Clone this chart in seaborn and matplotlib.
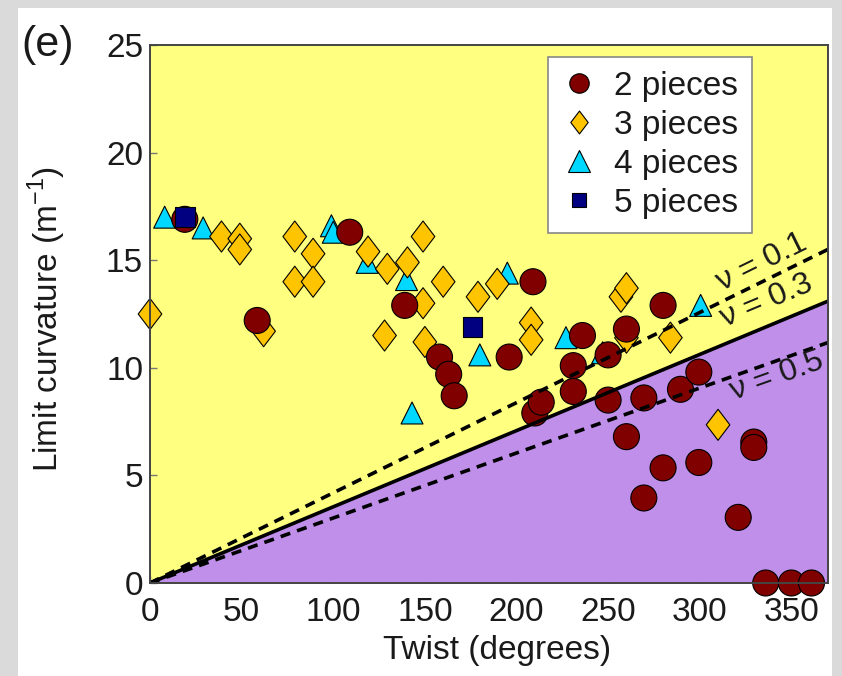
import numpy as np
import pandas as pd
import matplotlib
matplotlib.use("Agg")
import matplotlib.pyplot as plt
from matplotlib.path import Path
from matplotlib.lines import Line2D
from matplotlib.patches import Rectangle
import seaborn as sns

# ---- measured limit curvature vs. twist, grouped by number of pieces ----
twist_2 = [19, 58.5, 109, 139, 158, 163, 166, 196, 209, 210, 213.5, 231, 231,
           236, 250, 250, 260, 260, 269.5, 269.5, 280, 280, 289.5, 299.5, 299.5,
           321, 329.5, 329.5, 336, 350, 361]
curv_2 = [16.9, 12.2, 16.3, 12.9, 10.5, 9.7, 8.7, 10.5, 14.0, 7.9, 8.4, 10.1, 8.9,
          11.5, 10.6, 8.5, 11.8, 6.8, 8.6, 3.95, 12.9, 5.35, 9.0, 9.8, 5.6,
          3.05, 6.55, 6.3, 0.0, 0.0, 0.0]

twist_3 = [0, 39, 49, 49, 62, 79, 79, 89, 89, 119, 128, 129.5, 140.5, 149, 149,
           150, 160, 179, 189.5, 208, 208, 257, 260, 260, 284, 310]
curv_3 = [12.5, 16.1, 16.0, 15.5, 11.7, 16.1, 14.0, 15.3, 14.0, 15.4, 11.5, 14.6,
          14.9, 16.1, 13.0, 11.2, 14.0, 13.3, 13.9, 12.1, 11.3, 13.3, 13.7, 11.4,
          11.4, 7.35]

twist_4 = [8, 29, 99, 100, 118.5, 140, 143, 180, 195, 227, 247, 300.5]
curv_4 = [17.0, 16.5, 16.6, 16.3, 14.9, 14.1, 7.9, 10.6, 14.4, 11.4, 10.7, 12.9]

twist_5 = [19, 176]
curv_5 = [17.0, 11.9]

# ---- stability boundaries: limit curvature per degree of twist ----
nu_values = [0.1, 0.3, 0.5]
nu_slopes = [0.0419, 0.0354, 0.0302]
nu_styles = ["--", "-", "--"]
nu_label_x = [334, 336.5, 342]
nu_label_y = [14.9, 13.1, 9.6]

x_ticks = [0, 50, 100, 150, 200, 250, 300, 350]
y_ticks = [0, 5, 10, 15, 20, 25]

groups = ["2 pieces", "3 pieces", "4 pieces", "5 pieces"]
colors = {"2 pieces": "#800000", "3 pieces": "#FFC400",
          "4 pieces": "#00D8FF", "5 pieces": "#000080"}
diamond = Path([(0, 1), (0.76, 0), (0, -1), (-0.76, 0), (0, 1)],
               [Path.MOVETO, Path.LINETO, Path.LINETO, Path.LINETO, Path.CLOSEPOLY])
markers = {"2 pieces": "o", "3 pieces": diamond, "4 pieces": "^", "5 pieces": "s"}
sizes = {"2 pieces": 350, "3 pieces": 500, "4 pieces": 250, "5 pieces": 205}
legend_ms = {"2 pieces": 14, "3 pieces": 16.5, "4 pieces": 15.5, "5 pieces": 9.5}

frames = []
for name, tx, cv in [("4 pieces", twist_4, curv_4), ("3 pieces", twist_3, curv_3),
                     ("2 pieces", twist_2, curv_2), ("5 pieces", twist_5, curv_5)]:
    frames.append(pd.DataFrame({"twist": tx, "curvature": cv, "pieces": name}))
df = pd.concat(frames, ignore_index=True)

sns.set_style("ticks")
plt.rcParams["font.family"] = ["Liberation Sans", "DejaVu Sans"]
plt.rcParams["text.color"] = "#1a1a1a"

FS = 24

fig = plt.figure(figsize=(8.42, 6.76), dpi=100, facecolor="white")
# light grey border around the sheet
for rect in [(0, 0, 18 / 842, 1), (832 / 842, 0, 10 / 842, 1), (0, 668 / 676, 1, 8 / 676)]:
    fig.patches.append(Rectangle(rect[:2], rect[2], rect[3], transform=fig.transFigure,
                                 facecolor="#dadada", edgecolor="none", zorder=0))

ax = fig.add_axes([150 / 842, 93 / 676, 678 / 842, 538 / 676])
x_max, y_max = 370, 25
ax.set_xlim(0, x_max)
ax.set_ylim(0, y_max)
ax.set_facecolor("#FFFF80")

xs = np.array([0, x_max])
# unstable region below the nu = 0.3 boundary
ax.fill_between(xs, 0, nu_slopes[1] * xs, color="#C08FEA", zorder=1, linewidth=0)

sns.scatterplot(data=df, x="twist", y="curvature", hue="pieces", style="pieces",
                size="pieces", palette=colors, markers=markers, sizes=sizes,
                hue_order=groups, style_order=groups, size_order=groups,
                edgecolor="black", linewidth=0.8, legend=False, ax=ax,
                zorder=3, clip_on=False)

for nu, k, ls in zip(nu_values, nu_slopes, nu_styles):
    sns.lineplot(x=xs, y=k * xs, ax=ax, color="black", linestyle=ls, linewidth=2.6,
                 zorder=4, legend=False)
    if ls == "--":
        ax.lines[-1].set_dashes((2.8, 2.0))

fig.canvas.draw()
for nu, k, lx, ly in zip(nu_values, nu_slopes, nu_label_x, nu_label_y):
    p0 = ax.transData.transform((0, 0))
    p1 = ax.transData.transform((x_max, k * x_max))
    ang = np.degrees(np.arctan2(p1[1] - p0[1], p1[0] - p0[0]))
    ax.text(lx, ly, f"ν = {nu}", rotation=ang, rotation_mode="anchor",
            ha="center", va="center", fontsize=23, color="#1a1a1a", zorder=5)

ax.set_xticks(x_ticks)
ax.set_yticks(y_ticks)
ax.tick_params(direction="in", length=5, width=1, color="#777777",
               labelsize=FS, labelcolor="#1a1a1a")
ax.tick_params(axis="x", pad=10)
ax.tick_params(axis="y", pad=5)
for sp in ax.spines.values():
    sp.set_color("#444444")
    sp.set_linewidth(1.4)
    sp.set_zorder(6)

ax.set_xlabel("Twist (degrees)", fontsize=FS, color="#1a1a1a")
ax.set_ylabel("Limit curvature (m$^{\\mathregular{-1}}$)", fontsize=FS, color="#1a1a1a")
ax.xaxis.set_label_coords(0.512, -0.097)
ax.yaxis.set_label_coords(-0.121, 0.49)

handles = [Line2D([], [], linestyle="none", marker=markers[g], markersize=legend_ms[g],
                  markerfacecolor=colors[g], markeredgecolor="black",
                  markeredgewidth=0.8, label=g) for g in groups]
leg = ax.legend(handles=handles, loc="upper right", bbox_to_anchor=(0.888, 0.978),
                borderaxespad=0, fontsize=FS, frameon=True, fancybox=False,
                framealpha=1, edgecolor="#888888", labelspacing=0.24,
                handlelength=1.0, handletextpad=0.55, borderpad=0.42)
leg.get_frame().set_linewidth(1.2)
leg.set_zorder(7)

fig.text(48 / 842, 1 - 45 / 676, "(e)", fontsize=31, ha="center", va="center",
         color="#1a1a1a")

fig.savefig("out.png", dpi=100, facecolor=fig.get_facecolor())
